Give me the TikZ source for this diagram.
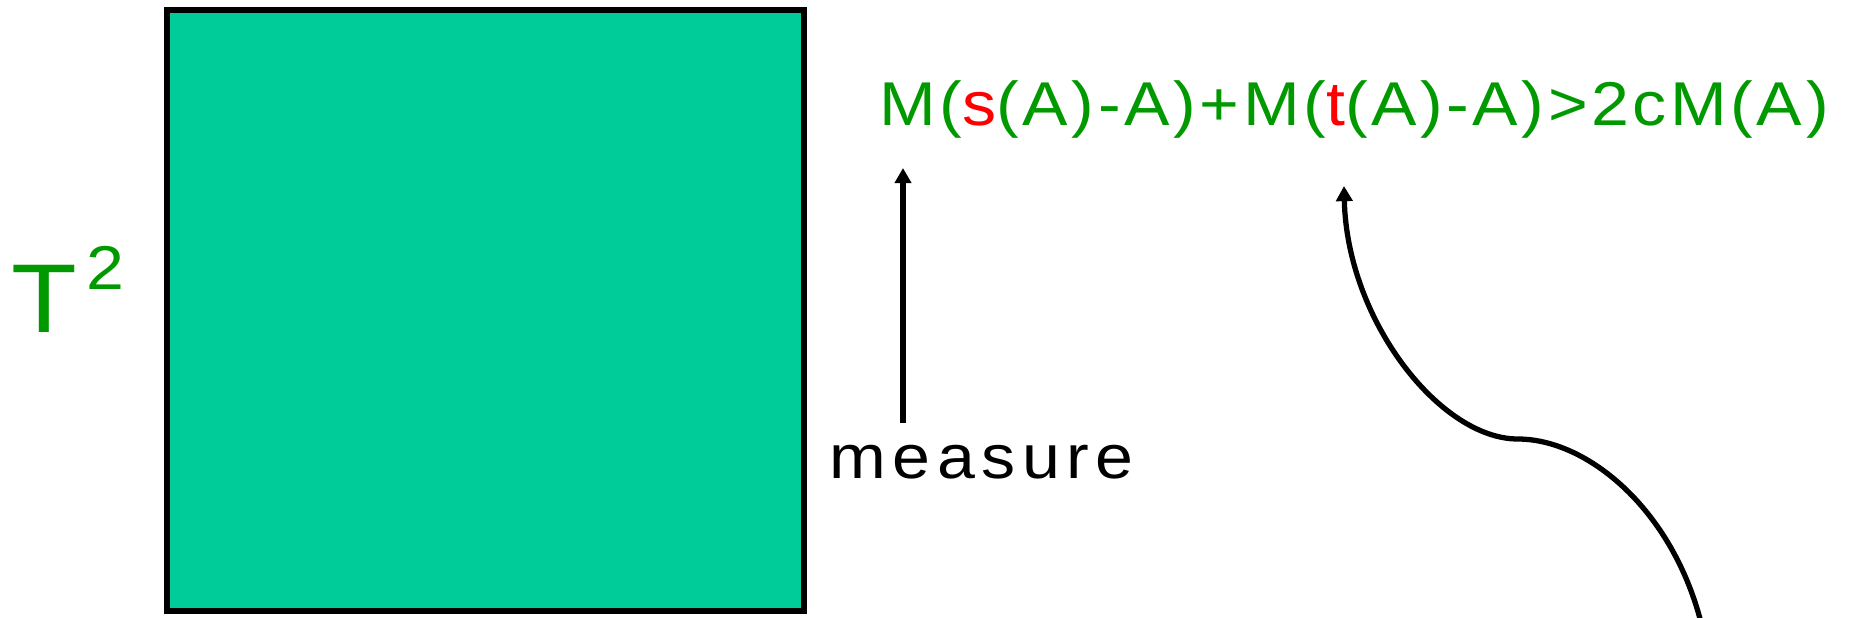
\documentclass[tikz,border=0pt]{standalone}
\usepackage{fontspec}
\setmainfont{Liberation Sans}
\usetikzlibrary{arrows.meta}

\definecolor{formulagreen}{RGB}{0,153,0}
\definecolor{formulared}{RGB}{255,0,0}
\definecolor{torusfill}{RGB}{0,204,153}

\begin{document}
\begin{tikzpicture}[x=0.01cm, y=-0.01cm, >={Triangle[width=4.6pt, length=4.3pt]}]

  % Styles for the texts and arrows
  \tikzset{
    wide text/.style={
      inner sep=0pt, anchor=base west,
      font=\fontsize{17.6}{20}\selectfont\addfontfeature{FakeStretch=1.1, LetterSpace=#1}
    },
    measure arrow/.style={->, line width=1.5pt}
  }

  \useasboundingbox (0,0) rectangle (1851,617);

  % The square
  \draw[line width=1.7pt, fill=torusfill] (167,10) rectangle (804,611);

  % Labels
  \node[anchor=base west, inner sep=0pt, text=formulagreen,
        font=\addfontfeature{FakeStretch=1.1}] (torus) at (11,332)
    {\fontsize{27.8}{30}\selectfont T\hspace{2.5pt}\raisebox{12pt}{\fontsize{17.6}{20}\selectfont 2}};
  \node[wide text=5.8, text=formulagreen] (formula) at (879,125)
    {M(\textcolor{formulared}{s}(A)-A)+M(\textcolor{formulared}{t}(A)-A)>2cM(A)};
  \node[wide text=10.5] (measure) at (829,478) {measure};

  % Arrow end points
  \coordinate (m0) at (903,423);
  \coordinate (m1) at (903,168);
  \coordinate (c0) at (1705,640);
  \coordinate (cm) at (1518,439);
  \coordinate (c1) at (1344,186);

  \draw[measure arrow] (m0) -- (m1);
  \draw[measure arrow] (c0) .. controls (1680,515) and (1590,439) .. (cm)
    .. controls (1440,439) and (1347,320) .. (c1);

\end{tikzpicture}
\end{document}
